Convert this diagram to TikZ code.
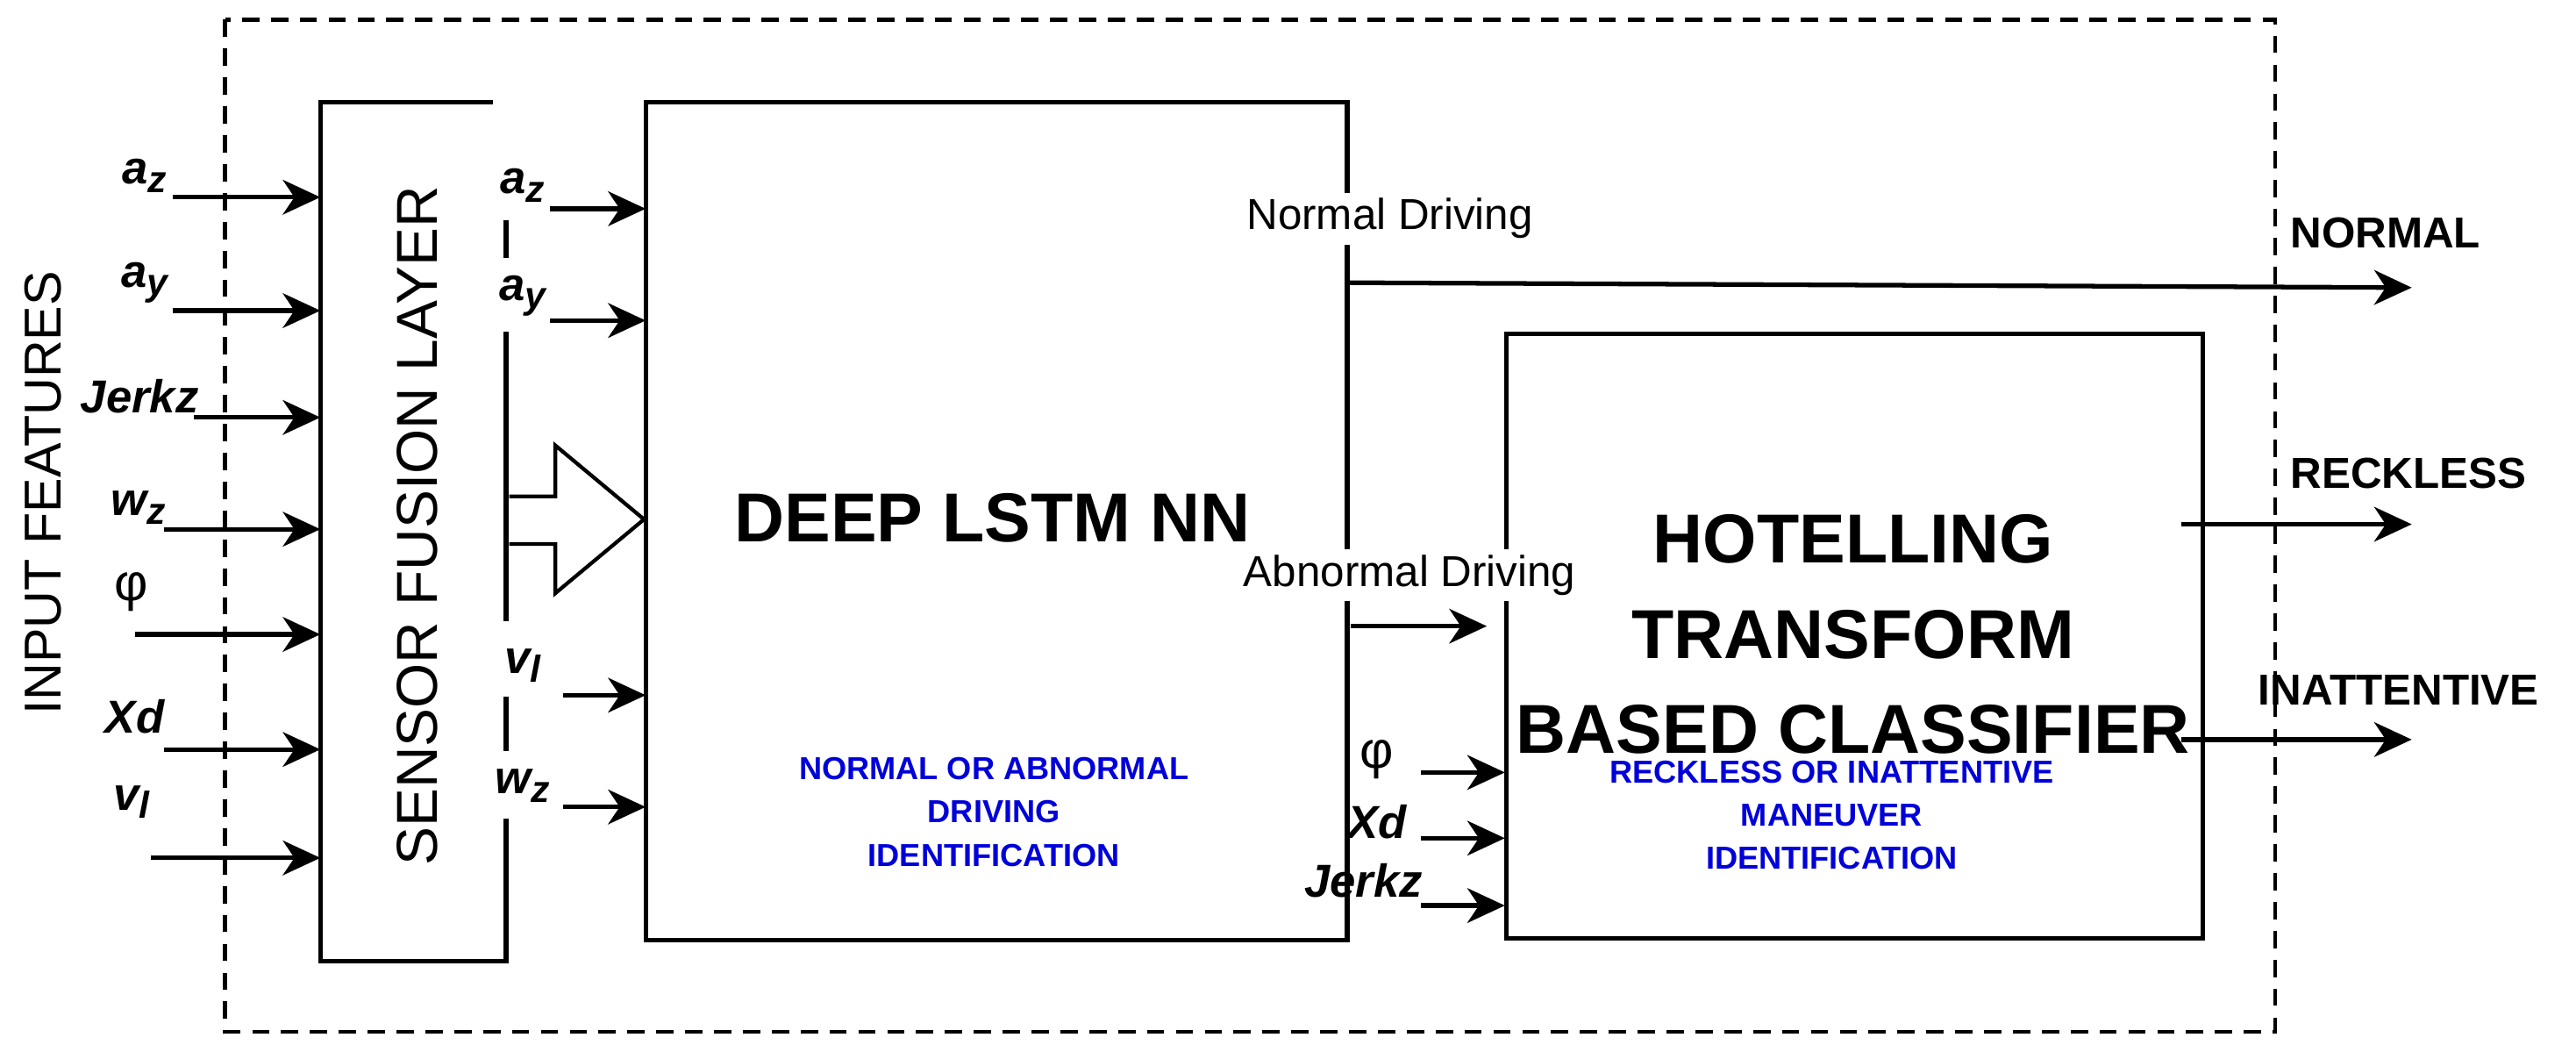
\documentclass[tikz,border=0pt]{standalone}
\usepackage{fontspec}
\setmainfont{Liberation Sans}
\usetikzlibrary{arrows.meta}
\newcommand{\sbx}[1]{\raisebox{-0.35ex}{\fontsize{13}{13}\selectfont #1}}
\begin{document}
\begin{tikzpicture}[x=0.02cm,y=-0.02cm,
  ln/.style={line width=1.6pt},
  arr/.style={ln,-{Stealth[length=13pt,width=12pt,inset=4pt]}},
  box/.style={draw,ln,inner sep=0pt},
  lab/.style={font=\fontsize{16}{16}\selectfont\bfseries\itshape,inner sep=1pt},
  outlab/.style={font=\fontsize{15}{15}\selectfont\bfseries,inner sep=1pt},
  bluet/.style={text=blue!85!black,font=\fontsize{11}{15}\selectfont\bfseries,align=center},
  bigt/.style={font=\fontsize{24}{33}\selectfont\bfseries,align=center}]
\useasboundingbox (0,0) rectangle (1568,640);
\draw[line width=1.3pt,dash pattern=on 6pt off 4pt] (137,12) rectangle (1385,628);
% sensor fusion layer
\draw[ln] (300,62) -- (195,62) -- (195,585) -- (308,585) -- (308,498);
\draw[ln] (308,134) -- (308,157) (308,202) -- (308,378) (308,424) -- (308,457);
\node[rotate=90,font=\fontsize{20}{20}\selectfont] (sfl) at (254,320) {SENSOR FUSION LAYER};
\node[rotate=90,font=\fontsize{18}{18}\selectfont] (inf) at (26,300) {INPUT FEATURES};
% hollow arrow
\draw[line width=1.3pt] (310,302) -- (338,302) -- (338,271) -- (392,316) -- (338,361) -- (338,331) -- (310,331);
% LSTM
\node[box,minimum width=427*0.02cm,minimum height=510*0.02cm] (lstm) at (606.5,317) {};
\node[bigt] (lt) at (604,315) {DEEP LSTM NN};
\node[bluet] (lb) at (605,494) {NORMAL OR ABNORMAL\\DRIVING\\IDENTIFICATION};
% classifier
\node[box,minimum width=424*0.02cm,minimum height=368*0.02cm] (hot) at (1129,387) {};
\node[bigt] (ht) at (1128,386) {HOTELLING\\TRANSFORM\\BASED CLASSIFIER};
\node[bluet] (hb) at (1115,496) {RECKLESS OR INATTENTIVE\\MANEUVER\\IDENTIFICATION};
% labels on LSTM right edge
\node[fill=white,font=\fontsize{15}{15}\selectfont,inner sep=2pt] (nd) at (846,133) {Normal Driving};
\node[fill=white,font=\fontsize{15}{15}\selectfont,inner sep=2pt] (ad) at (858,350) {Abnormal Driving};
% input features
\foreach \n/\t/\xs/\y/\lx/\ly in {
  a/{a\sbx{z}}/105/120/88/107,
  b/{a\sbx{y}}/105/189/88/172,
  c/{Jerkz}/118/254/85/241,
  d/{w\sbx{z}}/100/322/84/309,
  e/{\normalfont\fontsize{18}{18}\selectfont φ}/82/386/80/360,
  f/{Xd}/100/456/82/436,
  g/{v\sbx{l}}/92/522/80/488}{
  \node[lab] (in\n) at (\lx,\ly) {\t};
  \coordinate (s\n) at (\xs,\y);
  \coordinate (e\n) at (195,\y);
  \draw[arr] (s\n) -- (e\n);
}
% sensor outputs
\foreach \n/\t/\xs/\y/\ly in {
  a/{a\sbx{z}}/335/127/113,
  b/{a\sbx{y}}/335/195/180,
  c/{v\sbx{l}}/343/423/405,
  d/{w\sbx{z}}/343/491/478}{
  \node[lab] (o\n) at (318,\ly) {\t};
  \coordinate (os\n) at (\xs,\y);
  \coordinate (oe\n) at (393,\y);
  \draw[arr] (os\n) -- (oe\n);
}
% classifier inputs
\foreach \n/\t/\y/\lx/\ly in {
  a/{\normalfont\fontsize{18}{18}\selectfont φ}/470/838/462,
  b/{Xd}/510/838/500,
  c/{Jerkz}/551/830/536}{
  \node[lab] (ci\n) at (\lx,\ly) {\t};
  \coordinate (cs\n) at (865,\y);
  \coordinate (ce\n) at (916,\y);
  \draw[arr] (cs\n) -- (ce\n);
}
% outputs
\coordinate (n1) at (820,172); \coordinate (n2) at (1468,175);
\draw[arr] (n1) -- (n2);
\coordinate (ab1) at (822,381); \coordinate (ab2) at (905,381);
\draw[arr] (ab1) -- (ab2);
\coordinate (r1) at (1328,319); \coordinate (r2) at (1468,319);
\draw[arr] (r1) -- (r2);
\coordinate (i1) at (1328,450); \coordinate (i2) at (1468,450);
\draw[arr] (i1) -- (i2);
\node[outlab] (no) at (1452,142) {NORMAL};
\node[outlab] (re) at (1466,288) {RECKLESS};
\node[outlab] (ia) at (1460,420) {INATTENTIVE};
\end{tikzpicture}
\end{document}
